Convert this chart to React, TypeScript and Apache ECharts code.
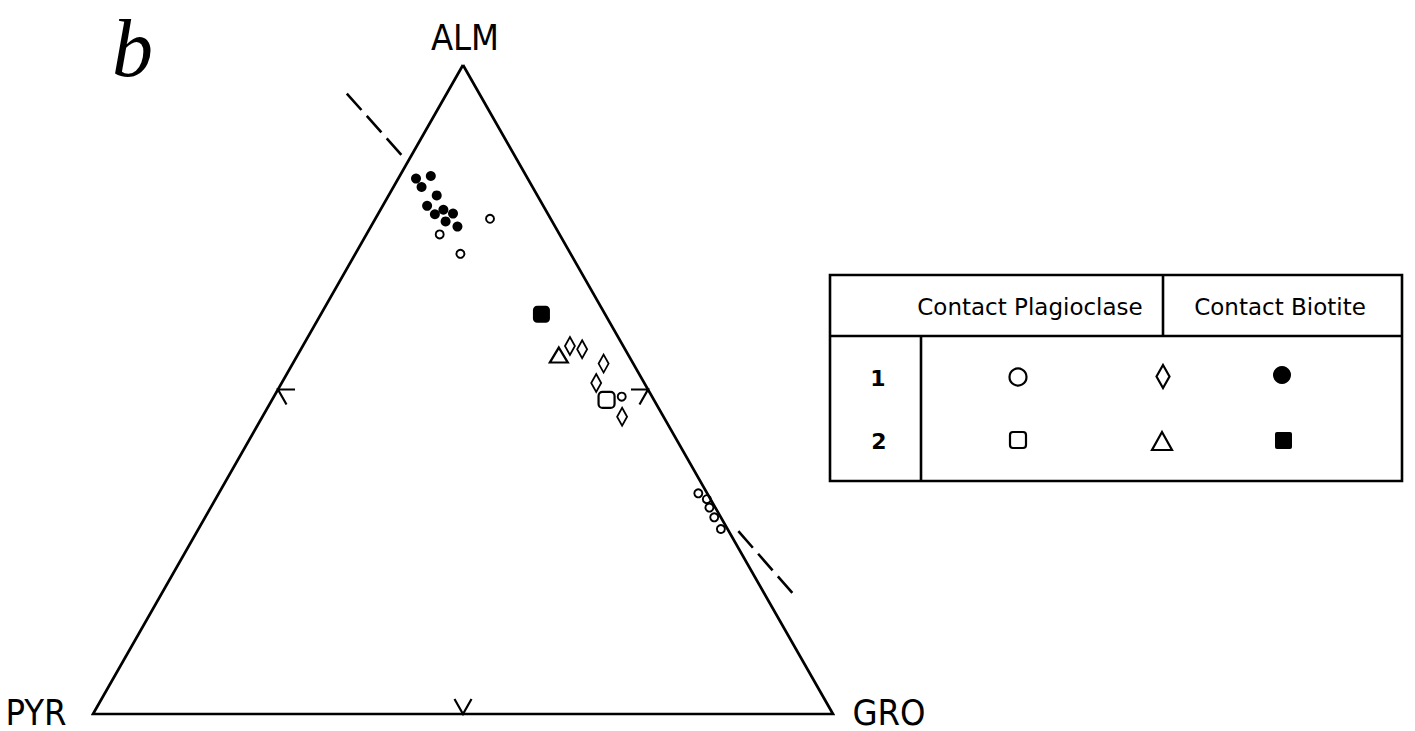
import React, { useEffect, useRef } from "react";
import * as echarts from "echarts";

// Compositions are [ALM, PYR, GRO] in percent
const VERTEX_LABELS = ["ALM", "PYR", "GRO"];
const VERTICES = [
  [100, 0, 0],
  [0, 100, 0],
  [0, 0, 100],
];

// Contact Biotite, type 1 (filled circles)
const biotite1 = [
  [82.5, 15.1, 2.4],
  [82.9, 12.9, 4.2],
  [81.2, 15.0, 3.8],
  [79.9, 13.6, 6.5],
  [78.3, 15.7, 6.0],
  [77.7, 13.8, 8.5],
  [77.1, 12.8, 10.1],
  [77.0, 15.3, 7.7],
  [75.9, 14.4, 9.7],
  [75.1, 13.2, 11.7],
];
// Contact Biotite, type 2 (filled square)
const biotite2 = [[61.6, 8.6, 29.8]];
// Contact Plagioclase, type 1 (open circles)
const plagCircle1 = [
  [76.3, 8.2, 15.5],
  [73.9, 16.2, 9.9],
  [70.9, 14.9, 14.2],
  [48.9, 4.1, 47.0],
  [34.0, 1.2, 64.8],
  [33.1, 0.5, 66.4],
  [31.8, 0.8, 67.4],
  [30.3, 0.9, 68.8],
  [28.5, 0.9, 70.6],
];
// Contact Plagioclase, type 2 (open square)
const plagSquare2 = [[48.4, 6.4, 45.2]];
// Diamonds (type 1) and triangle (type 2)
const diamond1 = [
  [56.7, 7.2, 36.1],
  [56.2, 5.8, 38.0],
  [54.0, 4.0, 42.0],
  [51.0, 6.5, 42.5],
  [45.8, 5.6, 48.6],
];
const triangle2 = [[55.3, 9.4, 35.3]];

// Dashed trend line, drawn only outside the triangle
const dashUpper = [
  [95.6, 17.9, -13.5],
  [86.0, 15.2, -1.1],
];
const dashLower = [
  [28.2, -1.3, 73.2],
  [18.4, -3.9, 85.5],
];

// 50% ticks on each side (arm, vertex, arm)
const TICK_ARM = 2.3;
const ticks = [
  [[50, 50 - TICK_ARM, TICK_ARM], [50, 50, 0], [50 - TICK_ARM, 50, TICK_ARM]],
  [[50, TICK_ARM, 50 - TICK_ARM], [50, 0, 50], [50 - TICK_ARM, TICK_ARM, 50]],
  [[TICK_ARM, 50, 50 - TICK_ARM], [0, 50, 50], [TICK_ARM, 50 - TICK_ARM, 50]],
];

const LEGEND_HEADERS = ["Contact Plagioclase", "Contact Biotite"];
const LEGEND_ROWS = ["1", "2"];

function toXY(c: number[]): number[] {
  const [a, p, g] = c;
  const s = a + p + g;
  return [(g + a / 2) / s, a / s];
}

const OPEN = { color: "rgba(0,0,0,0)", borderColor: "#000", borderWidth: 1.9, opacity: 1 };
const FILLED = { color: "#000", borderColor: "#000", borderWidth: 0, opacity: 1 };

function scatter(name: string, data: number[][], symbol: string, size: any, style: any) {
  return {
    name,
    type: "scatter",
    data: data.map(toXY),
    symbol,
    symbolSize: size,
    itemStyle: style,
    silent: true,
    clip: false,
    z: 5,
  };
}

function line(data: number[][], width: number, type: any = "solid") {
  return {
    type: "line",
    data: data.map(toXY),
    showSymbol: false,
    symbol: "none",
    silent: true,
    clip: false,
    lineStyle: { color: "#000", width, type, cap: "butt", join: "miter", opacity: 1 },
    z: 3,
  };
}

const LABEL_FONT = "'Liberation Sans Narrow', 'DejaVu Sans Condensed', sans-serif";
const TABLE_FONT = "'DejaVu Sans', sans-serif";

export default function App() {
  const ref = useRef<HTMLDivElement>(null);
  useEffect(() => {
    if (!ref.current) return;
    const chart = echarts.init(ref.current, undefined, { renderer: "svg" });
    const tl = (x1: number, y1: number, x2: number, y2: number) => ({
      type: "line",
      shape: { x1, y1, x2, y2 },
      style: { stroke: "#000", lineWidth: 2.6 },
      silent: true,
    });
    const txt = (
      text: string,
      x: number,
      y: number,
      font: string,
      align = "center",
      lineHeight?: number
    ) => ({
      type: "text",
      silent: true,
      style: {
        text,
        x,
        y,
        font,
        fill: "#000",
        align,
        verticalAlign: "middle",
        textAlign: align,
        textVerticalAlign: "middle",
        lineHeight,
      },
    });
    const option: any = {
      animation: false,
      backgroundColor: "#fff",
      grid: { left: 93, right: 582, top: 65, bottom: 17 },
      xAxis: { type: "value", min: 0, max: 1, show: false },
      yAxis: { type: "value", min: 0, max: 1, show: false },
      series: [
        line([...VERTICES, VERTICES[0]], 2.7),
        ...ticks.map((t) => line(t, 2.2)),
        line(dashUpper, 2.6, [22, 8]),
        line(dashLower, 2.6, [22, 8]),
        scatter("Contact Plagioclase 1", plagCircle1, "circle", 8, OPEN),
        scatter("Contact Plagioclase 2", plagSquare2, "roundRect", 16, { ...OPEN, borderWidth: 2.2 }),
        scatter("Diamond 1", diamond1, "diamond", [10, 18], OPEN),
        scatter("Triangle 2", triangle2, "triangle", [18, 15], { ...OPEN, borderWidth: 2.2 }),
        scatter("Contact Biotite 1", biotite1, "circle", 10, FILLED),
        scatter("Contact Biotite 2", biotite2, "roundRect", 17, FILLED),
      ],
      graphic: [
        txt("b", 112, 48, "italic 82px 'Liberation Serif', serif", "left", 82),
        txt(VERTEX_LABELS[0], 465, 37, `36px ${LABEL_FONT}`, "center", 30),
        txt(VERTEX_LABELS[1], 36, 712, `36px ${LABEL_FONT}`, "center", 30),
        txt(VERTEX_LABELS[2], 889, 712, `36px ${LABEL_FONT}`, "center", 30),
        // legend table
        {
          type: "rect",
          silent: true,
          shape: { x: 830, y: 275, width: 572, height: 206 },
          style: { fill: "none", stroke: "#000", lineWidth: 2.6 },
        },
        tl(830, 336, 1402, 336),
        tl(1163, 275, 1163, 336),
        tl(921, 336, 921, 481),
        txt(LEGEND_HEADERS[0], 1030, 307, `23px ${TABLE_FONT}`),
        txt(LEGEND_HEADERS[1], 1280, 307, `23px ${TABLE_FONT}`),
        txt(LEGEND_ROWS[0], 878, 378, `bold 22px ${TABLE_FONT}`),
        txt(LEGEND_ROWS[1], 879, 441, `bold 22px ${TABLE_FONT}`),
        {
          type: "circle",
          silent: true,
          shape: { cx: 1018, cy: 377, r: 8.5 },
          style: { fill: "none", stroke: "#000", lineWidth: 2.2 },
        },
        {
          type: "polygon",
          silent: true,
          shape: { points: [[1163, 365], [1169.5, 376.5], [1163, 388], [1156.5, 376.5]] },
          style: { fill: "none", stroke: "#000", lineWidth: 2.2 },
        },
        {
          type: "circle",
          silent: true,
          shape: { cx: 1282, cy: 375, r: 9 },
          style: { fill: "#000" },
        },
        {
          type: "rect",
          silent: true,
          shape: { x: 1010, y: 432, width: 16, height: 16, r: 3 },
          style: { fill: "none", stroke: "#000", lineWidth: 2.2 },
        },
        {
          type: "polygon",
          silent: true,
          shape: { points: [[1162, 432], [1172, 450], [1152, 450]] },
          style: { fill: "none", stroke: "#000", lineWidth: 2.2 },
        },
        {
          type: "rect",
          silent: true,
          shape: { x: 1275, y: 432, width: 17, height: 17, r: 2 },
          style: { fill: "#000" },
        },
      ],
    };
    chart.setOption(option);
    return () => chart.dispose();
  }, []);
  return (
    <div
      ref={ref}
      style={{ position: "fixed", left: 0, top: 0, width: 1415, height: 731, background: "#fff" }}
    />
  );
}
